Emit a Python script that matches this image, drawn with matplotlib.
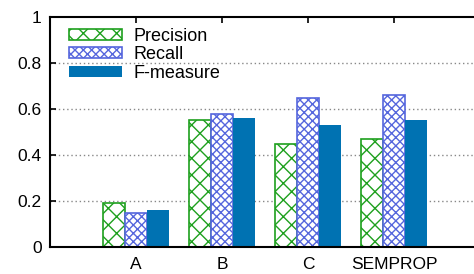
import matplotlib
matplotlib.use("Agg")
from matplotlib import pyplot as plt
import numpy as np

plt.rcParams['font.family'] = ['Liberation Sans', 'DejaVu Sans']
plt.rcParams['hatch.linewidth'] = 1.0

categories = ['A', 'B', 'C', 'SEMPROP']
precision = [0.19, 0.55, 0.45, 0.47]
recall = [0.15, 0.58, 0.65, 0.66]
fmeasure = [0.16, 0.56, 0.53, 0.55]

W, H = 474, 274
fig = plt.figure(figsize=(W / 100, H / 100), dpi=100)
ax = fig.add_axes([50 / W, (H - 247) / H, (480 - 50) / W, (247 - 17) / H])

x = np.arange(1, len(categories) + 1)
bw = 0.255
ax.bar(x - bw, precision, bw, facecolor='white', edgecolor='#1ea01e',
       hatch='xx', linewidth=1.2, label='Precision')
ax.bar(x, recall, bw, facecolor='white', edgecolor='#5566dd',
       hatch='xxxx', linewidth=1.2, label='Recall')
ax.bar(x + bw, fmeasure, bw, color='#0072b2', label='F-measure')

ax.set_xlim(0, 5)
ax.set_ylim(0, 1)
ax.set_yticks([0, 0.2, 0.4, 0.6, 0.8, 1])
ax.set_yticklabels(['0', '0.2', '0.4', '0.6', '0.8', '1'])
ax.set_xticks(x)
ax.set_xticklabels(categories)
ax.tick_params(direction='in', labelsize=12.5, length=4, width=1.2,
               top=True, bottom=False, pad=7)
ax.tick_params(axis='y', pad=6)
for y in [0.2, 0.4, 0.6, 0.8]:
    ax.axhline(y, color='#888888', linestyle=(0, (1, 2)), linewidth=1, zorder=0)
for side in ['left', 'top', 'bottom']:
    ax.spines[side].set_linewidth(1.5)
ax.spines['right'].set_visible(False)

ax.legend(loc='upper left', bbox_to_anchor=(0.02, 1.0), frameon=False,
          fontsize=13, handlelength=2.9, handleheight=0.55,
          labelspacing=0.08, borderaxespad=0.2, handletextpad=0.65)

plt.savefig('out.png', dpi=100)
plt.close()
